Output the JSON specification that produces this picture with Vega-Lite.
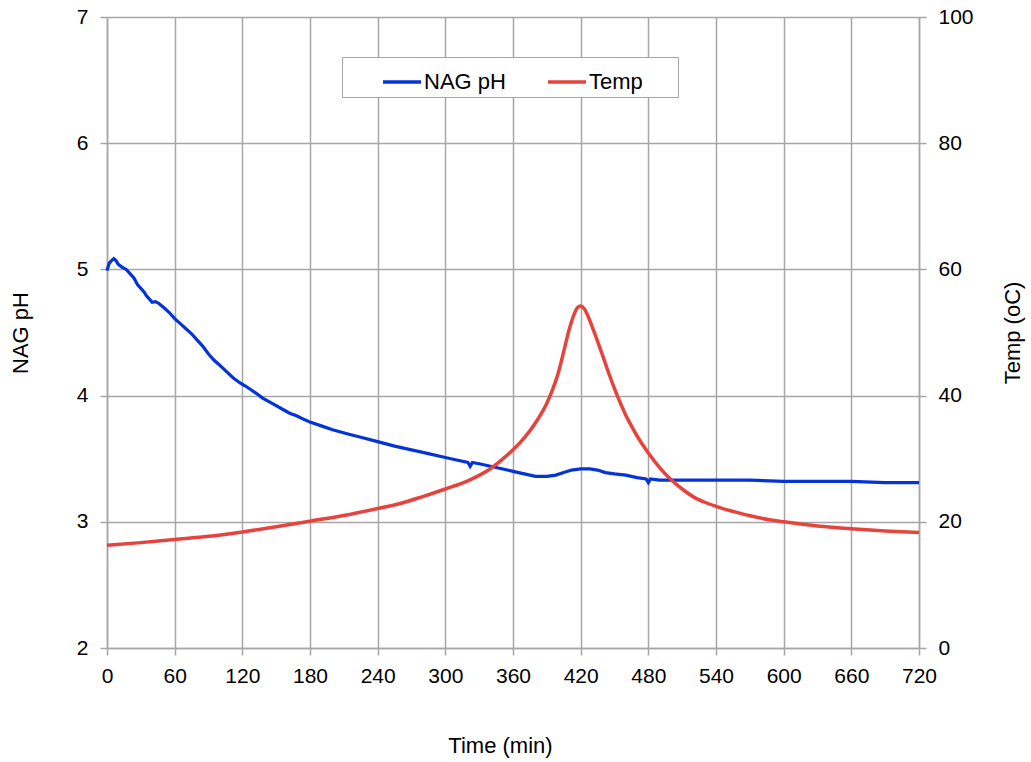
{
  "$schema": "https://vega.github.io/schema/vega-lite/v6.json",
  "width": 812,
  "height": 631,
  "autosize": {"type": "none"},
  "padding": {"left": 107, "top": 17, "right": 112, "bottom": 114},
  "background": "white",
  "config": {
    "view": {"stroke": null},
    "font": "Liberation Sans",
    "axis": {
      "labelFont": "Liberation Sans",
      "labelFontSize": 21,
      "labelColor": "#000000",
      "titleFont": "Liberation Sans",
      "titleFontSize": 22,
      "titleFontWeight": "normal",
      "titleColor": "#000000",
      "domainColor": "#a6a6a6",
      "domainWidth": 1.5,
      "tickColor": "#a6a6a6",
      "tickWidth": 1.5,
      "tickSize": 7,
      "gridColor": "#a6a6a6",
      "gridWidth": 1.5,
      "labelOverlap": false,
      "labelFlush": false
    },
    "legend": {"labelFont": "Liberation Sans"}
  },
  "datasets": {
    "ph": [
      {"t": 0, "v": 4.99}, {"t": 2, "v": 5.05}, {"t": 4, "v": 5.07}, {"t": 6, "v": 5.085},
      {"t": 8, "v": 5.07}, {"t": 10, "v": 5.04}, {"t": 13, "v": 5.02}, {"t": 17, "v": 5.0},
      {"t": 20, "v": 4.97}, {"t": 24, "v": 4.93}, {"t": 27, "v": 4.88}, {"t": 30, "v": 4.85},
      {"t": 33, "v": 4.82}, {"t": 35, "v": 4.79}, {"t": 38, "v": 4.76}, {"t": 40, "v": 4.74},
      {"t": 43, "v": 4.745}, {"t": 46, "v": 4.73}, {"t": 50, "v": 4.7}, {"t": 55, "v": 4.66},
      {"t": 60, "v": 4.61}, {"t": 65, "v": 4.57}, {"t": 70, "v": 4.53}, {"t": 75, "v": 4.49},
      {"t": 80, "v": 4.44}, {"t": 85, "v": 4.39}, {"t": 90, "v": 4.33}, {"t": 95, "v": 4.28},
      {"t": 100, "v": 4.24}, {"t": 106, "v": 4.19}, {"t": 112, "v": 4.14}, {"t": 118, "v": 4.1},
      {"t": 122, "v": 4.08}, {"t": 127, "v": 4.05}, {"t": 132, "v": 4.02}, {"t": 138, "v": 3.98},
      {"t": 144, "v": 3.95}, {"t": 150, "v": 3.92}, {"t": 156, "v": 3.89}, {"t": 162, "v": 3.86},
      {"t": 168, "v": 3.84}, {"t": 175, "v": 3.81}, {"t": 180, "v": 3.79}, {"t": 190, "v": 3.76},
      {"t": 200, "v": 3.73}, {"t": 212, "v": 3.7}, {"t": 225, "v": 3.67}, {"t": 240, "v": 3.635},
      {"t": 255, "v": 3.6}, {"t": 270, "v": 3.57}, {"t": 285, "v": 3.54}, {"t": 300, "v": 3.51},
      {"t": 310, "v": 3.49}, {"t": 320, "v": 3.47}, {"t": 322, "v": 3.44}, {"t": 324, "v": 3.47},
      {"t": 330, "v": 3.46}, {"t": 340, "v": 3.44}, {"t": 350, "v": 3.42}, {"t": 360, "v": 3.4},
      {"t": 370, "v": 3.38}, {"t": 380, "v": 3.36}, {"t": 390, "v": 3.36}, {"t": 398, "v": 3.37},
      {"t": 405, "v": 3.39}, {"t": 412, "v": 3.41}, {"t": 420, "v": 3.42}, {"t": 428, "v": 3.42},
      {"t": 435, "v": 3.41}, {"t": 442, "v": 3.39}, {"t": 450, "v": 3.38}, {"t": 460, "v": 3.37},
      {"t": 470, "v": 3.35}, {"t": 478, "v": 3.34}, {"t": 480, "v": 3.31}, {"t": 482, "v": 3.34},
      {"t": 490, "v": 3.33}, {"t": 500, "v": 3.33}, {"t": 520, "v": 3.33}, {"t": 540, "v": 3.33},
      {"t": 570, "v": 3.33}, {"t": 600, "v": 3.32}, {"t": 630, "v": 3.32}, {"t": 660, "v": 3.32},
      {"t": 690, "v": 3.31}, {"t": 720, "v": 3.31}
    ],
    "temp": [
      {"t": 0, "v": 16.3}, {"t": 30, "v": 16.7}, {"t": 60, "v": 17.2}, {"t": 90, "v": 17.7},
      {"t": 120, "v": 18.4}, {"t": 150, "v": 19.2}, {"t": 180, "v": 20.1}, {"t": 210, "v": 21.0},
      {"t": 240, "v": 22.1}, {"t": 260, "v": 22.9}, {"t": 280, "v": 24.0}, {"t": 300, "v": 25.2},
      {"t": 320, "v": 26.5}, {"t": 340, "v": 28.4}, {"t": 350, "v": 29.8}, {"t": 360, "v": 31.4},
      {"t": 370, "v": 33.3}, {"t": 380, "v": 35.7}, {"t": 390, "v": 38.8}, {"t": 395, "v": 40.9},
      {"t": 400, "v": 43.5}, {"t": 405, "v": 47.0}, {"t": 410, "v": 50.6}, {"t": 414, "v": 52.8},
      {"t": 417, "v": 53.9}, {"t": 420, "v": 54.2}, {"t": 423, "v": 53.8}, {"t": 426, "v": 52.8},
      {"t": 430, "v": 51.0}, {"t": 435, "v": 48.6}, {"t": 440, "v": 46.1}, {"t": 445, "v": 43.5},
      {"t": 450, "v": 41.1}, {"t": 455, "v": 38.9}, {"t": 460, "v": 36.9}, {"t": 465, "v": 35.2},
      {"t": 470, "v": 33.6}, {"t": 475, "v": 32.2}, {"t": 480, "v": 30.9}, {"t": 490, "v": 28.6},
      {"t": 500, "v": 26.7}, {"t": 510, "v": 25.2}, {"t": 520, "v": 23.95}, {"t": 530, "v": 23.1},
      {"t": 540, "v": 22.45}, {"t": 555, "v": 21.65}, {"t": 570, "v": 20.95}, {"t": 585, "v": 20.4},
      {"t": 600, "v": 20.0}, {"t": 630, "v": 19.35}, {"t": 660, "v": 18.9}, {"t": 690, "v": 18.55},
      {"t": 720, "v": 18.3}
    ]
  },
  "encoding": {
    "x": {
      "field": "t",
      "type": "quantitative",
      "scale": {"domain": [0, 720], "nice": false, "zero": false},
      "axis": {
        "values": [0, 60, 120, 180, 240, 300, 360, 420, 480, 540, 600, 660, 720],
        "labelPadding": 10,
        "title": "Time (min)",
        "titleX": 393,
        "titleY": 97,
        "titleAlign": "center",
        "titleBaseline": "middle"
      }
    }
  },
  "layer": [
    {
      "data": {"name": "ph"},
      "mark": {"type": "line", "strokeWidth": 3.2, "interpolate": "linear"},
      "encoding": {
        "y": {
          "field": "v",
          "type": "quantitative",
          "scale": {"domain": [2, 7], "nice": false, "zero": false},
          "axis": {
            "orient": "left",
            "values": [2, 3, 4, 5, 6, 7],
            "labelPadding": 12,
            "title": "NAG pH",
            "titleAngle": 270,
            "titleX": -87,
            "titleY": 315.5,
            "titleAlign": "center",
            "titleBaseline": "middle"
          }
        },
        "color": {
          "datum": "NAG pH",
          "type": "nominal",
          "scale": {"domain": ["NAG pH", "Temp"], "range": ["#0433d9", "#e6433d"]},
          "legend": {
            "orient": "none",
            "legendX": 235,
            "legendY": 40,
            "direction": "horizontal",
            "title": null,
            "symbolType": "stroke",
            "symbolSize": 1444,
            "symbolStrokeWidth": 3.5,
            "labelFontSize": 22,
            "labelColor": "#000000",
            "padding": 4,
            "strokeColor": "#a6a6a6",
            "fillColor": "white",
            "symbolOffset": 35,
            "labelOffset": 1,
            "columnPadding": 5,
            "labelExpr": "datum.label == 'Temp' ? datum.label + '     \u200b' : datum.label"
          }
        }
      }
    },
    {
      "data": {"name": "temp"},
      "mark": {"type": "line", "strokeWidth": 3.5, "interpolate": "monotone"},
      "encoding": {
        "y": {
          "field": "v",
          "type": "quantitative",
          "scale": {"domain": [0, 100], "nice": false, "zero": false},
          "axis": {
            "orient": "right",
            "values": [0, 20, 40, 60, 80, 100],
            "grid": false,
            "labelPadding": 12,
            "title": "Temp (oC)",
            "titleAngle": 270,
            "titleX": 93,
            "titleY": 315.5,
            "titleAlign": "center",
            "titleBaseline": "middle"
          }
        },
        "color": {"datum": "Temp", "type": "nominal"}
      }
    }
  ],
  "resolve": {"scale": {"y": "independent"}}
}
